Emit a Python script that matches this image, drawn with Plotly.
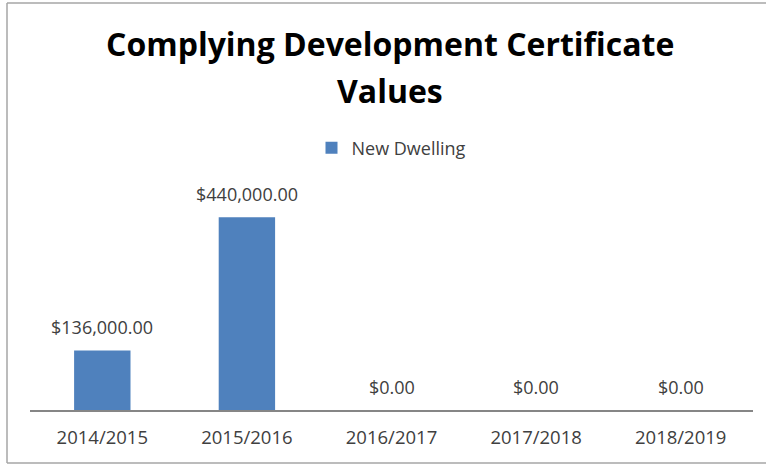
import plotly.graph_objects as go

categories = ["2014/2015", "2015/2016", "2016/2017", "2017/2018", "2018/2019"]
new_dwelling = [136000, 440000, 0, 0, 0]
series_name = "New Dwelling"
title_lines = ["Complying Development Certificate", "Values"]

W, H = 766, 465
L, R, T, B = 30, 13, 191, 55
pw, ph = W - L - R, H - T - B

def px(x):
    return (x - L) / pw

def py(y):
    return (H - B - y) / ph

fig = go.Figure()
fig.add_trace(go.Bar(
    x=categories, y=new_dwelling, name=series_name,
    marker=dict(color="#4f81bd", line=dict(width=0)),
    width=0.39,
    showlegend=True,
))

annotations = []
for cat, val in zip(categories, new_dwelling):
    annotations.append(dict(
        x=cat, y=val, xref="x", yref="y", text=f"${val:,.2f}", showarrow=False,
        yanchor="bottom", yshift=9,
        font=dict(family="Open Sans", size=18, color="#404040"),
    ))
for line, ycen in zip(title_lines, [43, 90]):
    annotations.append(dict(
        x=px(390), y=py(ycen), xref="paper", yref="paper", text=f"<b>{line}</b>",
        showarrow=False, xanchor="center", yanchor="middle",
        font=dict(family="Open Sans", size=32, color="#000000"),
    ))

border = dict(color="#a6a6a6", width=1.5)
shapes = [
    dict(type="line", xref="paper", yref="paper", x0=px(7), x1=px(766), y0=py(3), y1=py(3), line=border),
    dict(type="line", xref="paper", yref="paper", x0=px(7), x1=px(766), y0=py(463), y1=py(463), line=border),
    dict(type="line", xref="paper", yref="paper", x0=px(7), x1=px(7), y0=py(3), y1=py(463), line=border),
]

fig.update_layout(
    width=W, height=H,
    margin=dict(l=L, r=R, t=T, b=B, autoexpand=False),
    paper_bgcolor="white", plot_bgcolor="white",
    font=dict(family="Open Sans", size=18, color="#404040"),
    legend=dict(orientation="h", x=0.5, xanchor="center", y=py(148), yanchor="middle",
                font=dict(family="Open Sans", size=18, color="#404040"),
                itemwidth=30, bgcolor="rgba(0,0,0,0)"),
    xaxis=dict(showline=True, linecolor="#868686", linewidth=1.5, showgrid=False,
               ticks="", ticklabelstandoff=10, automargin=False,
               tickfont=dict(family="Open Sans", size=18.5, color="#404040")),
    yaxis=dict(range=[0, 500000], visible=False, showgrid=False, zeroline=False, automargin=False),
    bargap=0.61,
    annotations=annotations,
    shapes=shapes,
)

fig.write_html("out.html", config={"displayModeBar": False},
               post_script="document.body.style.margin='0';document.body.style.padding='0';")
